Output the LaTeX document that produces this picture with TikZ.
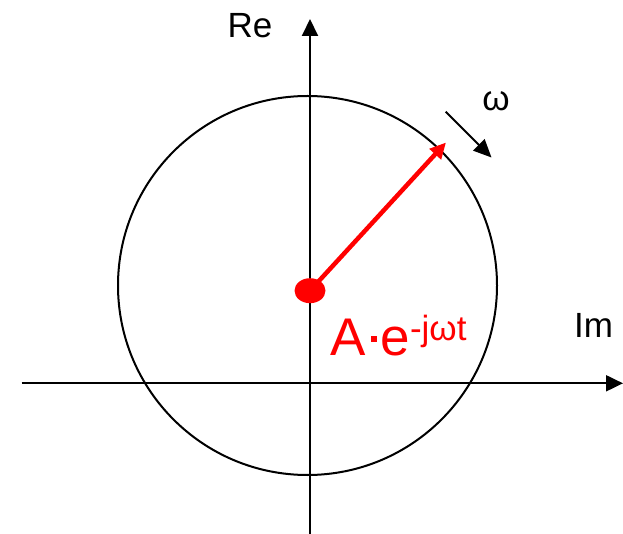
\documentclass[tikz,border=0pt]{standalone}
\usepackage{fontspec}
\setmainfont{Liberation Sans}
\usetikzlibrary{arrows.meta}
\tikzset{
  axis/.style={line width=2pt, -{Triangle[width=16pt,length=17pt]}},
  ring/.style={line width=2pt},
  phasor/.style={red, line width=4.5pt, -{Triangle[width=15pt,length=16pt]}},
  rot/.style={line width=2pt, -{Triangle[width=16pt,length=18pt]}},
  lbl/.style={inner sep=0pt, font=\fontsize{35}{40}\selectfont},
}
\begin{document}
\begin{tikzpicture}[x=1pt,y=-1pt]
\useasboundingbox (0,0) rectangle (623,534);
% coordinates
\coordinate (xl) at (21.7,383.3);
\coordinate (xr) at (623,383.3);
\coordinate (yb) at (310,534);
\coordinate (yt) at (310,19);
\coordinate (c) at (307.5,285.5);
\coordinate (p) at (310,290.7);
\coordinate (tip) at (446,142.5);
\coordinate (w1) at (445.7,111.7);
\coordinate (w2) at (491.5,157.5);
% axes
\draw[axis] (xl) -- (xr);
\draw[axis] (yb) -- (yt);
% circle
\draw[ring] (c) circle[radius=189.5];
% phasor
\fill[red] (p) ellipse[x radius=15.5, y radius=12.5];
\draw[phasor] (p) -- (tip);
% rotation arrow
\draw[rot] (w1) -- (w2);
% labels
\node[lbl, anchor=base] (re) at (250,37.3) {Re};
\node[lbl, anchor=base] (im) at (593.5,337) {Im};
\node[lbl, anchor=base] (om) at (496,111) {ω};
\node[inner sep=0pt, anchor=base west, red, font=\fontsize{53}{60}\selectfont] (ph) at (330.5,355)
  {A\hspace{4.5pt}\rule[13pt]{6pt}{6pt}\hspace{4pt}e\raisebox{15pt}{\fontsize{35}{40}\selectfont -jωt}};
\end{tikzpicture}
\end{document}
